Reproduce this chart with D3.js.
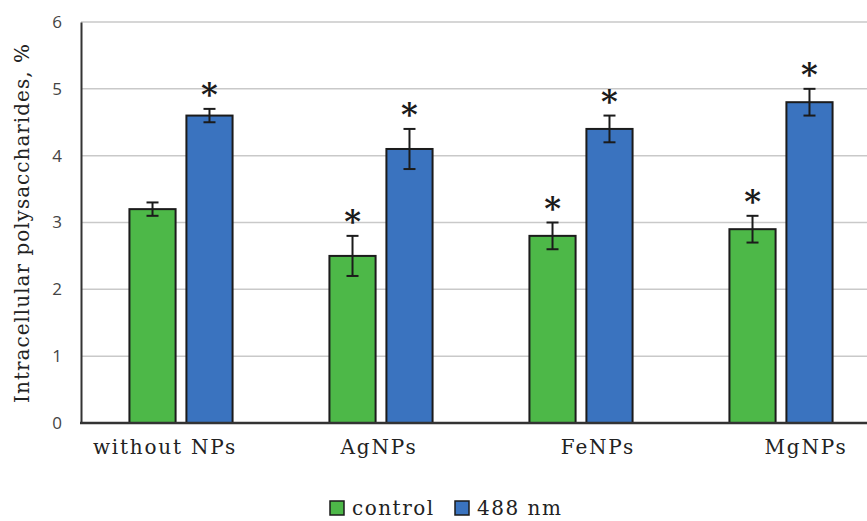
<!DOCTYPE html>
<html>
<head>
<meta charset="utf-8">
<script src="https://cdn.jsdelivr.net/npm/d3@7"></script>
<style>
  body { margin: 0; background: #fff; }
  svg { display: block; }
</style>
</head>
<body>
<svg id="chart" width="867" height="521"></svg>
<script>
// Intracellular polysaccharides bar chart with error bars and significance stars

const groups = ['without NPs', 'AgNPs', 'FeNPs', 'MgNPs'];
const series = ['control', '488 nm'];
const controlValues = [3.2, 2.5, 2.8, 2.9];
const controlErrors = [0.1, 0.3, 0.2, 0.2];
const laserValues = [4.6, 4.1, 4.4, 4.8];
const laserErrors = [0.1, 0.3, 0.2, 0.2];
const controlStar = [false, true, true, true];
const laserStar = [true, true, true, true];
const yTicks = [0, 1, 2, 3, 4, 5, 6];

const colors = { 'control': '#4db848', '488 nm': '#3a73bf' };
const serif = '"DejaVu Serif", "Liberation Serif", serif';

const svg = d3.select('#chart');
const width = +svg.attr('width');

const rows = [];
groups.forEach((g, i) => {
    rows.push({ group: g, series: 'control', value: controlValues[i], err: controlErrors[i], star: controlStar[i] });
    rows.push({ group: g, series: '488 nm', value: laserValues[i], err: laserErrors[i], star: laserStar[i] });
});

const x0 = d3.scaleBand().domain(groups).range([81, 881]);
const x1 = d3.scaleBand().domain(series).range([0, x0.bandwidth()])
    .paddingInner(0.19).paddingOuter(0.85);
const y = d3.scaleLinear().domain([0, 6]).range([423, 22]);

// gridlines
svg.append('g')
    .selectAll('line')
    .data(yTicks.filter(t => t > 0))
    .enter()
    .append('line')
    .attr('x1', 81)
    .attr('x2', width)
    .attr('y1', d => y(d))
    .attr('y2', d => y(d))
    .attr('stroke', '#c9c9c9')
    .attr('stroke-width', 1.5);

// y axis
const yAxis = svg.append('g')
    .attr('transform', 'translate(81,0)')
    .call(d3.axisLeft(y).tickValues(yTicks).tickFormat(d3.format('d')).tickSize(0).tickPadding(19));
yAxis.select('.domain').attr('stroke', '#333').attr('stroke-width', 2);
yAxis.selectAll('text')
    .attr('font-family', '"Open Sans", "Liberation Sans", sans-serif')
    .attr('font-size', '17px')
    .attr('fill', '#444');

// bars
svg.append('g')
    .selectAll('rect')
    .data(rows)
    .enter()
    .append('rect')
    .attr('x', d => x0(d.group) + x1(d.series))
    .attr('y', d => y(d.value))
    .attr('width', x1.bandwidth())
    .attr('height', d => y(0) - y(d.value))
    .attr('fill', d => colors[d.series])
    .attr('stroke', '#1b1b1b')
    .attr('stroke-width', 2);

// error bars
const cx = d => x0(d.group) + x1(d.series) + x1.bandwidth() / 2;
const eb = svg.append('g').attr('stroke', '#1b1b1b').attr('stroke-width', 2);
eb.selectAll('.stem')
    .data(rows)
    .enter()
    .append('line')
    .attr('x1', cx).attr('x2', cx)
    .attr('y1', d => y(d.value + d.err))
    .attr('y2', d => y(d.value - d.err));
eb.selectAll('.capTop')
    .data(rows)
    .enter()
    .append('line')
    .attr('x1', d => cx(d) - 6).attr('x2', d => cx(d) + 6)
    .attr('y1', d => y(d.value + d.err))
    .attr('y2', d => y(d.value + d.err));
eb.selectAll('.capBot')
    .data(rows)
    .enter()
    .append('line')
    .attr('x1', d => cx(d) - 6).attr('x2', d => cx(d) + 6)
    .attr('y1', d => y(d.value - d.err))
    .attr('y2', d => y(d.value - d.err));

// stars
svg.append('g')
    .selectAll('text')
    .data(rows.filter(d => d.star))
    .enter()
    .append('text')
    .attr('x', cx)
    .attr('y', d => y(d.value + d.err) - 4)
    .attr('text-anchor', 'middle')
    .attr('font-family', serif)
    .attr('font-weight', 'bold')
    .attr('font-size', '32px')
    .attr('fill', '#1b1b1b')
    .text('*');

// x axis line
svg.append('line')
    .attr('x1', 80)
    .attr('x2', width)
    .attr('y1', y(0))
    .attr('y2', y(0))
    .attr('stroke', '#333')
    .attr('stroke-width', 2.5);

// x labels (slightly nudged like the original figure)
const labelShift = [-16, -2, 17, 25];
svg.append('g')
    .selectAll('text')
    .data(groups)
    .enter()
    .append('text')
    .attr('x', (d, i) => x0(d) + x0.bandwidth() / 2 + labelShift[i])
    .attr('y', 454)
    .attr('text-anchor', 'middle')
    .attr('font-family', serif)
    .attr('font-size', '20px')
    .attr('letter-spacing', '1.8px')
    .attr('fill', '#222')
    .text(d => d);

// y title
svg.append('text')
    .attr('transform', 'translate(29,223) rotate(-90)')
    .attr('text-anchor', 'middle')
    .attr('font-family', serif)
    .attr('font-size', '20px')
    .attr('letter-spacing', '1px')
    .attr('fill', '#222')
    .text('Intracellular polysaccharides, %');

// legend
const legend = svg.append('g').attr('transform', 'translate(330,500)');
const lx = [0, 125];
series.forEach((s, i) => {
    legend.append('rect')
        .attr('x', lx[i])
        .attr('y', 1)
        .attr('width', 14)
        .attr('height', 14)
        .attr('fill', colors[s])
        .attr('stroke', '#1b1b1b')
        .attr('stroke-width', 1.5);
    legend.append('text')
        .attr('x', lx[i] + 22)
        .attr('y', 15)
        .attr('font-family', serif)
        .attr('font-size', '20px')
        .attr('letter-spacing', '1.5px')
        .attr('fill', '#222')
        .text(s);
});
</script>
</body>
</html>
